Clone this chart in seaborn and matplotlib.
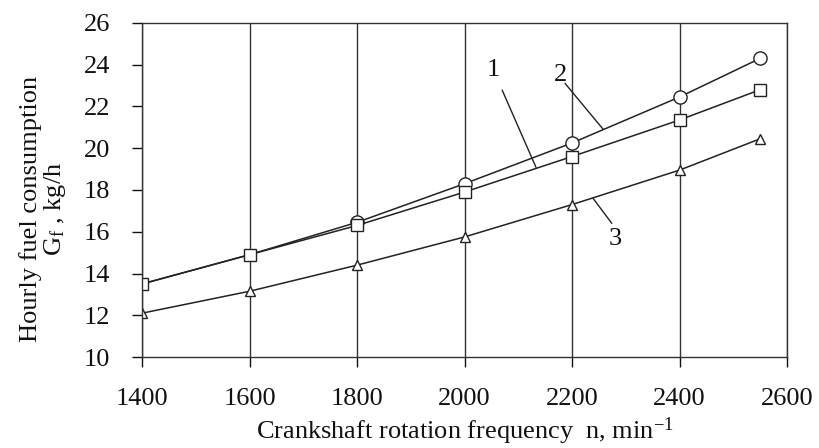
import matplotlib
matplotlib.use("Agg")
import matplotlib.pyplot as plt
import seaborn as sns
import pandas as pd

# Data
rpm = [1400, 1600, 1800, 2000, 2200, 2400, 2550]
curve1_square = [13.5, 14.9, 16.3, 17.9, 19.6, 21.35, 22.8]
curve2_circle = [13.5, 14.9, 16.45, 18.3, 20.25, 22.45, 24.3]
curve3_triangle = [12.1, 13.15, 14.4, 15.75, 17.3, 18.95, 20.45]
x_ticks = [1400, 1600, 1800, 2000, 2200, 2400, 2600]
y_ticks = [10, 12, 14, 16, 18, 20, 22, 24, 26]

sns.set_theme(style="white")
plt.rcParams["font.family"] = ["Liberation Serif", "DejaVu Serif"]
plt.rcParams["mathtext.fontset"] = "custom"
plt.rcParams["mathtext.rm"] = "Liberation Serif"
plt.rcParams["mathtext.it"] = "Liberation Serif"

fig = plt.figure(figsize=(8.19, 4.48), dpi=100)
ax = fig.add_axes([0.1734, 0.203, 0.7876, 0.746])

df = pd.DataFrame({"n": rpm, "c1": curve1_square, "c2": curve2_circle, "c3": curve3_triangle})
lc = "#222222"
common = dict(color=lc, linewidth=1.1, markerfacecolor="white", markeredgecolor=lc,
              markeredgewidth=1.0, ax=ax)
sns.lineplot(data=df, x="n", y="c2", marker="o", markersize=9.5, markevery=[2, 3, 4, 5, 6], **common)
sns.lineplot(data=df, x="n", y="c1", marker="s", markersize=9, **common)
sns.lineplot(data=df, x="n", y="c3", marker="^", markersize=7, **common)

ax.set_xlim(1400, 2600)
ax.set_ylim(10, 26)
ax.set_xticks(x_ticks)
ax.set_yticks(y_ticks)
ax.tick_params(axis="x", labelsize=19, colors="#111111", direction="out", length=7, width=1.0,
               bottom=True, pad=15)
ax.tick_params(axis="y", labelsize=19, colors="#111111", direction="out", length=7, width=1.0,
               left=True, pad=16)
ax.xaxis.grid(True, color="#333333", linewidth=1.0)
ax.yaxis.grid(False)
for s in ax.spines.values():
    s.set_color("#333333")
    s.set_linewidth(1.0)

ax.set_xlabel("Crankshaft rotation frequency  n, min$^{-1}$", fontsize=19, color="#111111", labelpad=4)
ax.set_ylabel("Hourly fuel consumption\nG$_{f}$ , kg/h", fontsize=19, color="#111111",
              linespacing=1.0)
ax.yaxis.set_label_coords(-0.115, 0.443)

ann = dict(arrowprops=dict(arrowstyle="-", color=lc, lw=1.0, shrinkA=0, shrinkB=0))
ax.annotate("", xy=(2133, 19.08), xytext=(2070, 22.78), **ann)
ax.text(2053, 23.74, "1", fontsize=19, ha="center", va="center", color="#111111")
ax.annotate("", xy=(2258, 20.9), xytext=(2187, 23.1), **ann)
ax.text(2178, 23.5, "2", fontsize=19, ha="center", va="center", color="#111111")
ax.annotate("", xy=(2239, 17.6), xytext=(2274, 16.4), **ann)
ax.text(2280, 15.66, "3", fontsize=19, ha="center", va="center", color="#111111")

fig.savefig("out.png", dpi=100)
